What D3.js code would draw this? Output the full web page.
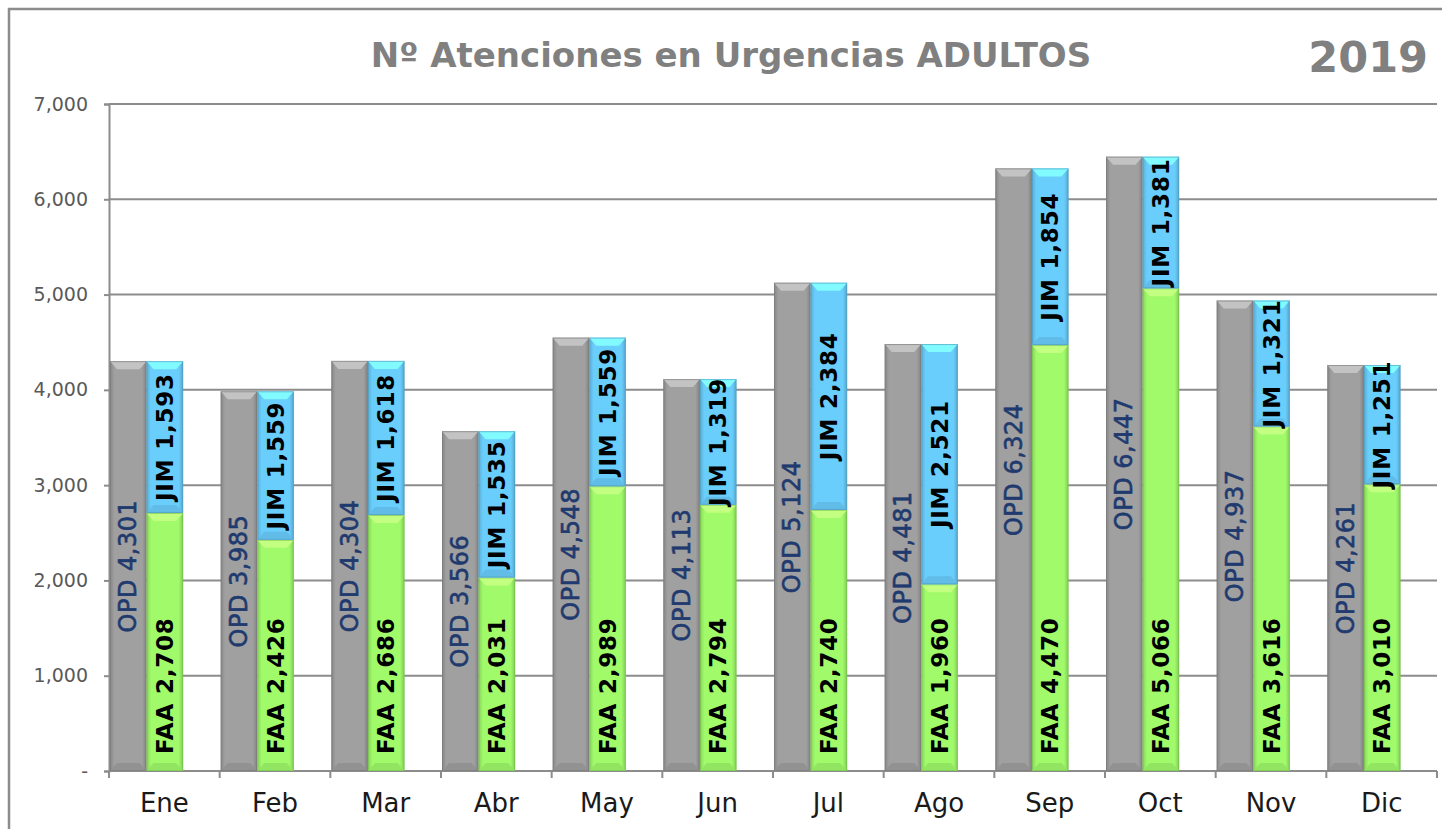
<!DOCTYPE html>
<html>
<head>
<meta charset="utf-8">
<title>Atenciones en Urgencias ADULTOS 2019</title>
<script src="https://d3js.org/d3.v7.min.js"></script>
<style>
    body { margin: 0; background: #fff; }
    svg { display: block; font-family: "DejaVu Sans", sans-serif; }
    .ytick { font-size: 19px; fill: #595959; }
    .xtick { font-size: 26px; fill: #1a1a1a; }
    .lbl-opd { font-size: 24px; fill: #1f3a6e; stroke: #1f3a6e; stroke-width: 0.6px; letter-spacing: 0.5px; }
    .lbl-in { font-size: 23px; font-weight: bold; fill: #000; letter-spacing: 0.8px; }
</style>
</head>
<body>
<svg width="1442" height="829"></svg>
<script>
// values
const months = ["Ene", "Feb", "Mar", "Abr", "May", "Jun", "Jul", "Ago", "Sep", "Oct", "Nov", "Dic"];
const opd = [4301, 3985, 4304, 3566, 4548, 4113, 5124, 4481, 6324, 6447, 4937, 4261];
const faa = [2708, 2426, 2686, 2031, 2989, 2794, 2740, 1960, 4470, 5066, 3616, 3010];
const jim = [1593, 1559, 1618, 1535, 1559, 1319, 2384, 2521, 1854, 1381, 1321, 1251];
const yTicks = [0, 1000, 2000, 3000, 4000, 5000, 6000, 7000];

const svg = d3.select("svg");
const fmt = d3.format(",");

// frame
svg.append("rect")
    .attr("x", 9).attr("y", 9)
    .attr("width", 1460).attr("height", 860)
    .attr("fill", "none").attr("stroke", "#8c8c8c").attr("stroke-width", 2.5);

// title
svg.append("text")
    .attr("x", 731).attr("y", 67)
    .attr("text-anchor", "middle")
    .attr("font-size", 34).attr("font-weight", "bold")
    .attr("fill", "#808080")
    .text("Nº Atenciones en Urgencias ADULTOS");
svg.append("text")
    .attr("x", 1428).attr("y", 72)
    .attr("text-anchor", "end")
    .attr("font-size", 43).attr("font-weight", "bold")
    .attr("fill", "#808080")
    .text("2019");

const plotL = 109, plotR = 1437, plotT = 104, plotB = 771;

const x = d3.scaleBand().domain(months).range([plotL, plotR]);
const y = d3.scaleLinear().domain([0, 7000]).range([plotB, plotT]);
const bw = x.bandwidth();
const xs = d3.scaleBand().domain(["opd", "stack"]).range([1, bw * 0.67]);

// gradients for the bevelled look
const defs = svg.append("defs");
function grad(id, c) {
    const base = d3.color(c);
    const g = defs.append("linearGradient").attr("id", id)
        .attr("x1", "0").attr("x2", "1").attr("y1", "0").attr("y2", "0");
    g.append("stop").attr("offset", "0%").attr("stop-color", base.darker(0.5));
    g.append("stop").attr("offset", "12%").attr("stop-color", base);
    g.append("stop").attr("offset", "88%").attr("stop-color", base);
    g.append("stop").attr("offset", "100%").attr("stop-color", base.darker(0.6));
}
grad("gGray", "#a0a0a0");
grad("gGreen", "#a0fa6a");
grad("gBlue", "#6acefc");

// grid + axes
const grid = svg.append("g");
grid.selectAll("line.grid")
    .data(yTicks.filter(d => d > 0))
    .join("line")
    .attr("x1", plotL).attr("x2", plotR)
    .attr("y1", d => y(d)).attr("y2", d => y(d))
    .attr("stroke", "#8c8c8c").attr("stroke-width", 2);

const yAxis = svg.append("g")
    .attr("transform", `translate(${plotL},0)`)
    .call(d3.axisLeft(y).tickValues(yTicks).tickSize(5).tickPadding(16)
        .tickFormat(d => d === 0 ? "-" : fmt(d)));
yAxis.attr("font-family", null).attr("font-size", null);
yAxis.select(".domain").attr("stroke", "#8c8c8c").attr("stroke-width", 2);
yAxis.selectAll(".tick line").attr("stroke", "#8c8c8c").attr("stroke-width", 2);
yAxis.selectAll(".tick text").attr("class", "ytick").attr("fill", null);

const xAxis = svg.append("g")
    .attr("transform", `translate(0,${plotB})`);
xAxis.append("line")
    .attr("x1", plotL).attr("x2", plotR)
    .attr("stroke", "#8c8c8c").attr("stroke-width", 2);
xAxis.selectAll("line.tk")
    .data(months.concat(["end"]))
    .join("line")
    .attr("class", "tk")
    .attr("x1", (d, i) => plotL + i * bw).attr("x2", (d, i) => plotL + i * bw)
    .attr("y1", 0).attr("y2", 7)
    .attr("stroke", "#8c8c8c").attr("stroke-width", 2);
xAxis.selectAll("text")
    .data(months)
    .join("text")
    .attr("class", "xtick")
    .attr("x", d => x(d) + bw / 2)
    .attr("y", 41)
    .attr("text-anchor", "middle")
    .text(d => d);

// bevelled bar segment
function bar(g, bx, by, w, h, fillId, base) {
    const c = d3.color(base);
    g.append("rect").attr("x", bx).attr("y", by).attr("width", w).attr("height", h)
        .attr("fill", `url(#${fillId})`);
    const b = Math.min(8, h / 2);
    g.append("polygon")
        .attr("points", [[bx, by], [bx + w, by], [bx + w - 7, by + b], [bx + 7, by + b]].join(" "))
        .attr("fill", c.brighter(0.55));
    g.append("polygon")
        .attr("points", [[bx + 7, by + h - b], [bx + w - 7, by + h - b], [bx + w, by + h], [bx, by + h]].join(" "))
        .attr("fill", c.darker(0.25));
    g.append("rect").attr("x", bx + 0.5).attr("y", by + 0.5).attr("width", w - 1).attr("height", h - 1)
        .attr("fill", "none").attr("stroke", c.darker(0.8)).attr("stroke-width", 1).attr("stroke-opacity", 0.6);
}

const bars = svg.append("g");
const labels = svg.append("g");

months.forEach((m, i) => {
    const gx = x(m) + xs("opd");
    const sx = x(m) + xs("stack");
    const w = xs.bandwidth();

    bar(bars, gx, y(opd[i]), w, plotB - y(opd[i]), "gGray", "#a0a0a0");
    bar(bars, sx, y(faa[i]), w, plotB - y(faa[i]), "gGreen", "#a0fa6a");
    bar(bars, sx, y(faa[i] + jim[i]), w, y(faa[i]) - y(faa[i] + jim[i]), "gBlue", "#6acefc");

    // OPD label centred in the grey bar
    const oy = (y(opd[i]) + plotB) / 2;
    labels.append("text")
        .attr("class", "lbl-opd")
        .attr("transform", `translate(${gx + w / 2},${oy}) rotate(-90)`)
        .attr("text-anchor", "middle")
        .attr("dominant-baseline", "central")
        .text("OPD " + fmt(opd[i]));

    // FAA label at the base
    labels.append("text")
        .attr("class", "lbl-in")
        .attr("transform", `translate(${sx + w / 2},${plotB - 17}) rotate(-90)`)
        .attr("text-anchor", "start")
        .attr("dominant-baseline", "central")
        .text("FAA " + fmt(faa[i]));

    // JIM label centred in the blue segment
    const jy = (y(faa[i]) + y(faa[i] + jim[i])) / 2;
    labels.append("text")
        .attr("class", "lbl-in")
        .attr("transform", `translate(${sx + w / 2},${jy}) rotate(-90)`)
        .attr("text-anchor", "middle")
        .attr("dominant-baseline", "central")
        .text("JIM " + fmt(jim[i]));
});
</script>
</body>
</html>
